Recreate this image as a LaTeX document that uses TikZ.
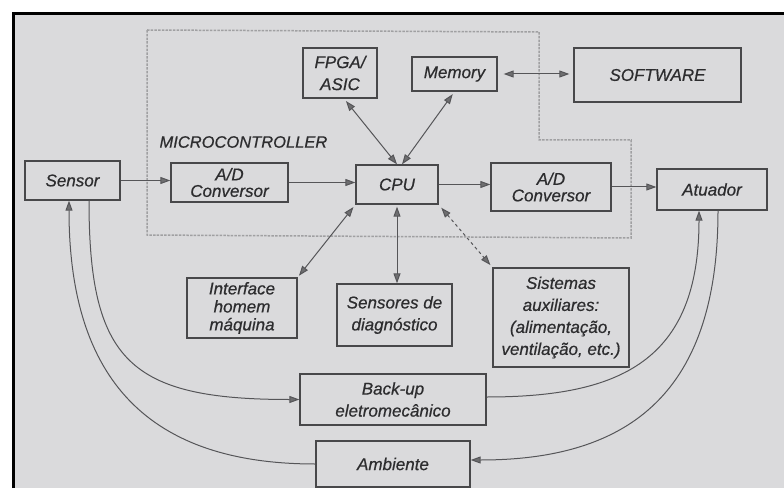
\documentclass[tikz,border=0pt]{standalone}
\usepackage{fontspec}
\setmainfont{Liberation Sans}[FakeBold=0.6]
\usetikzlibrary{arrows.meta}
\definecolor{bgc}{RGB}{218,218,220}
\definecolor{boxc}{RGB}{72,72,74}
\definecolor{linec}{RGB}{85,85,88}
\definecolor{txtc}{RGB}{45,45,47}
\definecolor{mcc}{RGB}{160,160,162}
\definecolor{tipc}{RGB}{110,110,112}
\tikzset{
  blk/.style={draw=boxc, line width=1.3pt, inner sep=0pt, align=center, text=txtc,
    font=\itshape\fontsize{17}{22}\selectfont},
  conn/.style={draw=linec, line width=1pt, -{Triangle[length=10pt,width=7pt,fill=tipc]}},
  bconn/.style={conn, {Triangle[length=10pt,width=7pt,fill=tipc]}-{Triangle[length=10pt,width=7pt,fill=tipc]}},
  mcline/.style={draw=mcc, line width=1.5pt, dash pattern=on 2.5pt off 1.2pt}
}
\begin{document}
\begin{tikzpicture}[x=1pt,y=-1pt]
\useasboundingbox (0,0) rectangle (784,489);
\fill[white] (0,0) rectangle (784,489);
\fill[bgc] (13,14) rectangle (784,488);
\draw[black, line width=3pt] (13,488) -- (13,14) -- (784,14);
% microcontroller outline
\draw[mcline] (147,30) -- (539,32) -- (539,140) -- (631,140) -- (631,238) -- (147,235) -- cycle;
\node[text=txtc, font=\itshape\fontsize{16.5}{18}\selectfont, anchor=west] (mc) at (156,142) {MICROCONTROLLER};
% boxes
\node[blk, minimum width=74pt, minimum height=50pt] (fpga) at (340,73) {FPGA/\\ASIC};
\node[blk, minimum width=85pt, minimum height=34pt] (memory) at (454.5,74) {Memory};
\node[blk, minimum width=167pt, minimum height=54pt] (software) at (657.5,75) {SOFTWARE};
\node[blk, minimum width=95pt, minimum height=39pt] (sensor) at (72.5,180.5) {Sensor};
\node[blk, minimum width=117pt, minimum height=39pt, font=\itshape\fontsize{17}{16.5}\selectfont] (adl) at (229.5,182.5) {A/D\\Conversor};
\node[blk, minimum width=82pt, minimum height=39pt] (cpu) at (397,184.5) {CPU};
\node[blk, minimum width=120pt, minimum height=48pt, font=\itshape\fontsize{17}{16.5}\selectfont] (adr) at (551,187) {A/D\\Conversor};
\node[blk, minimum width=110pt, minimum height=41pt] (atuador) at (712,189.5) {Atuador};
\node[blk, minimum width=110pt, minimum height=60pt, font=\itshape\fontsize{17}{18}\selectfont] (ihm) at (242,308) {Interface\\homem\\máquina};
\node[blk, minimum width=115pt, minimum height=62pt] (sdiag) at (394.5,315) {Sensores de\\diagnóstico};
\node[blk, minimum width=136pt, minimum height=99pt] (sist) at (561,317.5) {Sistemas\\auxiliares:\\(alimentação,\\ventilação, etc.)};
\node[blk, minimum width=186pt, minimum height=51pt] (backup) at (393,399.5) {Back-up\\eletromecânico};
\node[blk, minimum width=154pt, minimum height=46pt] (ambiente) at (393,464) {Ambiente};
% straight connectors
\draw[conn] (sensor.east) -- (sensor.east -| adl.west);
\draw[conn] (adl.east) -- (adl.east -| cpu.west);
\draw[conn] (cpu.east) -- (cpu.east -| adr.west);
\draw[conn] (adr.east) -- (adr.east -| atuador.west);
\draw[bconn, shorten <=3pt] ([xshift=4pt]fpga.south) -- (cpu.north);
\draw[bconn, shorten <=3pt] (memory.south) -- ([xshift=5pt]cpu.north);
\draw[bconn, shorten <=6pt, shorten >=4pt] (memory.east) -- (memory.east -| software.west);
\draw[bconn, shorten <=3pt, shorten >=2pt] (cpu.south west) -- (ihm.north east);
\draw[bconn, shorten <=2pt] (cpu.south) -- (cpu.south |- sdiag.north);
\draw[bconn, dashed, shorten <=4pt, shorten >=3pt] (cpu.south east) -- (sist.north west);
% curved connectors
\draw[conn] ([xshift=16.5pt]sensor.south) .. controls +(0,160) and +(-170,0) .. (backup.west);
\draw[conn] (ambiente.west) .. controls +(-166,0) and +(0,180) .. ([xshift=-3.5pt]sensor.south);
\draw[conn] ([yshift=2.5pt]backup.east) .. controls +(134,0) and +(0,150) .. ([xshift=-13pt]atuador.south);
\draw[conn] ([xshift=6pt]atuador.south) .. controls +(0,180) and +(161,0) .. ([yshift=4pt]ambiente.east);
\end{tikzpicture}
\end{document}
